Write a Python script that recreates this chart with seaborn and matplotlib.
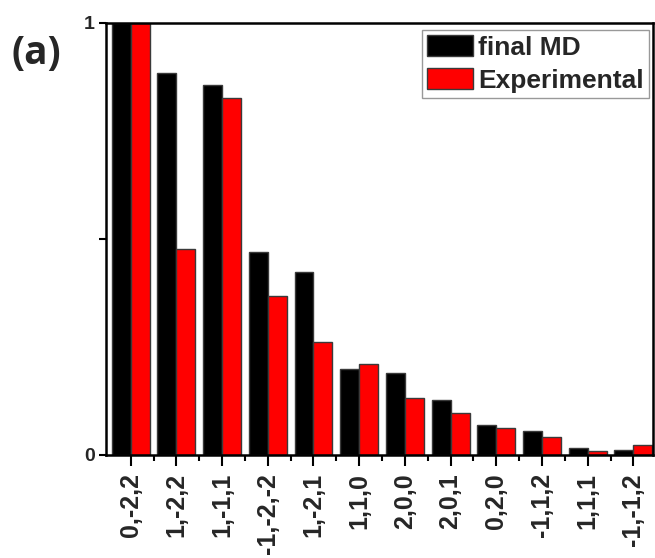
import matplotlib
matplotlib.use("Agg")
import matplotlib.pyplot as plt
import seaborn as sns
import pandas as pd

# Reflection indices and normalised intensities
planes = ["0,-2,2", "1,-2,2", "1,-1,1", "-1,-2,-2", "1,-2,1", "1,1,0",
          "2,0,0", "2,0,1", "0,2,0", "-1,1,2", "1,1,1", "-1,-1,2"]
final_md = [1.0, 0.884, 0.856, 0.469, 0.423, 0.199,
            0.190, 0.127, 0.069, 0.055, 0.017, 0.012]
experimental = [1.0, 0.477, 0.825, 0.368, 0.262, 0.211,
                0.132, 0.096, 0.063, 0.042, 0.010, 0.022]
series_names = ["final MD", "Experimental"]
series_colors = ["#000000", "#ff0000"]

df = pd.DataFrame({
    "plane": planes * 2,
    "value": final_md + experimental,
    "series": [series_names[0]] * len(planes) + [series_names[1]] * len(planes),
})

sns.set_style("white")
plt.rcParams["font.family"] = ["Liberation Sans", "DejaVu Sans"]
plt.rcParams["font.weight"] = "bold"

fig = plt.figure(figsize=(6.55, 5.58), dpi=100)
ax = fig.add_axes([0.1618, 0.1846, 0.8352, 0.7747])

sns.barplot(data=df, x="plane", y="value", hue="series", order=planes,
            hue_order=series_names, palette=series_colors, width=0.83,
            edgecolor="#3a3a3a", linewidth=1.0, saturation=1, ax=ax,
            errorbar=None)

ax.set_xlim(-0.54, 11.43)
ax.set_ylim(0, 1)
ax.set_xlabel("")
ax.set_ylabel("")

ax.set_yticks([0, 0.5, 1])
ax.set_yticklabels(["0", "", "1"], fontsize=14, fontweight="bold")
ax.set_xticks(range(len(planes)))
ax.set_xticklabels(planes, rotation=90, fontsize=18, fontweight="bold")
ax.set_xticks([i + 0.5 for i in range(len(planes) - 1)], minor=True)

ax.tick_params(axis="x", which="major", direction="out", length=8, width=1.5,
               bottom=True, pad=5, color="black")
ax.tick_params(axis="x", which="minor", direction="out", length=4, width=1.5,
               bottom=True, color="black")
ax.tick_params(axis="y", which="major", direction="out", length=5, width=1.5,
               left=True, pad=3, color="black")

for side in ["left", "right", "top", "bottom"]:
    ax.spines[side].set_visible(True)
    ax.spines[side].set_color("black")
    ax.spines[side].set_linewidth(1.8)

leg = ax.legend(loc="upper right", bbox_to_anchor=(0.993, 0.983),
                prop={"size": 19, "weight": "bold"}, frameon=True,
                fancybox=False, edgecolor="#999999", framealpha=1,
                handlelength=1.75, handleheight=0.85, handletextpad=0.2,
                labelspacing=0.3, borderpad=0.2, borderaxespad=0)
leg.get_frame().set_linewidth(1.0)

fig.text(0.018, 0.905, "(a)", fontsize=28, fontweight="bold",
         family=["Open Sans", "DejaVu Sans"], ha="left", va="center")

fig.savefig("out.png", dpi=100)
